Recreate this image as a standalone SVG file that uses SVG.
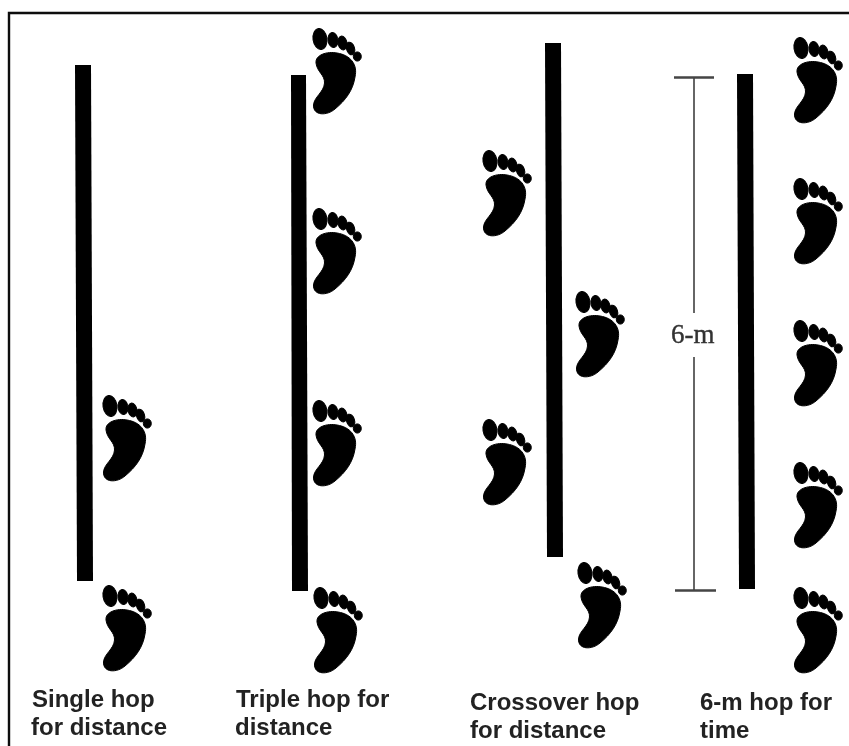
<svg xmlns="http://www.w3.org/2000/svg" width="849" height="746" viewBox="0 0 849 746">
<style>
.bar{fill:#000}
.dim{stroke:#666;stroke-width:2;fill:none}
.cap{stroke:#444;stroke-width:2.4;fill:none}
.lab{font-family:"Liberation Sans",Arial,sans-serif;font-weight:bold;font-size:24px;fill:#222}
.dl{font-family:"Liberation Serif","Times New Roman",serif;font-size:27px;fill:#333;stroke:#333;stroke-width:.4}
.ft{fill:#000;stroke:#000;stroke-width:1}
</style>
<defs>
<filter id="soft" filterUnits="userSpaceOnUse" x="0" y="0" width="849" height="746"><feGaussianBlur stdDeviation="0.7"/></filter>
<g id="foot" class="ft">
<ellipse cx="20" cy="21" rx="7" ry="10.5" transform="rotate(-8 20 21)"/>
<ellipse cx="33" cy="22" rx="5" ry="7.5" transform="rotate(-8 33 22)"/>
<ellipse cx="42.5" cy="25" rx="4.5" ry="7" transform="rotate(-12 42.5 25)"/>
<ellipse cx="50.5" cy="30.5" rx="4" ry="6.5" transform="rotate(-18 50.5 30.5)"/>
<ellipse cx="57.3" cy="38.5" rx="4" ry="4.6"/>
<path d="M16,45 C15,37 27,33 37,35 C50,37 58,46 55,59 C53,72 46,82 35,91 C27,98 13,98 13.5,87 C14,79 24,74 24.5,65 C25,57 17,54 16,45Z"/>
</g>
</defs>
<rect width="849" height="746" fill="#fff"/>
<g filter="url(#soft)">
<path d="M849,13H9V746" stroke="#111" stroke-width="2.4" fill="none"/>
<g id="connectors">
<path class="dim" d="M694,77.5V313M694,357V590.5"/>
<path class="cap" d="M674,77.5H714M675,590.5H716"/>
</g>
<g id="single-hop">
<polygon class="bar" points="75,65 91,65 93,581 77,581"/>
<use href="#foot" x="90" y="385"/>
<use href="#foot" x="90" y="575"/>
<text class="lab" x="32" y="707">Single hop</text>
<text class="lab" x="31" y="735">for distance</text>
</g>
<g id="triple-hop">
<polygon class="bar" points="291,75 306,75 308,591 292,591"/>
<use href="#foot" x="300" y="18"/>
<use href="#foot" x="300" y="198"/>
<use href="#foot" x="300" y="390"/>
<use href="#foot" x="301" y="577"/>
<text class="lab" x="236" y="707">Triple hop for</text>
<text class="lab" x="235" y="735">distance</text>
</g>
<g id="crossover-hop">
<polygon class="bar" points="545,43 561,43 563,557 547,557"/>
<use href="#foot" x="470" y="140"/>
<use href="#foot" x="563" y="281"/>
<use href="#foot" x="470" y="409"/>
<use href="#foot" x="565" y="552"/>
<text class="lab" x="470" y="710">Crossover hop</text>
<text class="lab" x="470" y="738">for distance</text>
</g>
<g id="six-m-hop">
<polygon class="bar" points="737,74 753,74 755,589 739,589"/>
<use href="#foot" x="781" y="27"/>
<use href="#foot" x="781" y="168"/>
<use href="#foot" x="781" y="310"/>
<use href="#foot" x="781" y="452"/>
<use href="#foot" x="781" y="577"/>
<text class="dl" x="671" y="343">6-m</text>
<text class="lab" x="700" y="710">6-m hop for</text>
<text class="lab" x="700" y="738">time</text>
</g>
</g>
</svg>
